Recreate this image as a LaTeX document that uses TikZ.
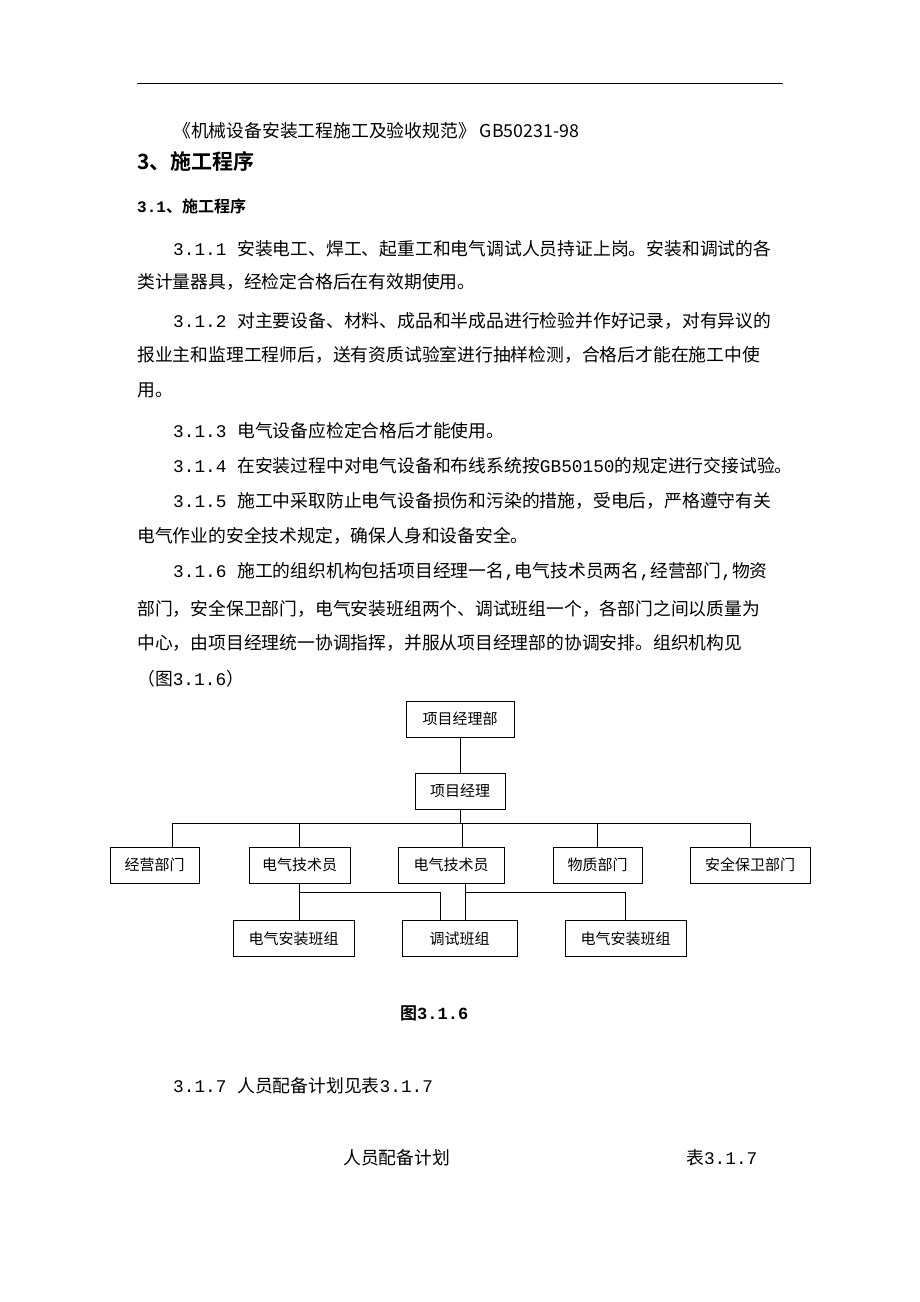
\documentclass[tikz,border=0pt]{standalone}
\usepackage{fontspec}
\newfontfamily\cjk{Noto Sans CJK SC}
\newfontfamily\cjkb{Noto Sans CJK SC Bold}
\newfontfamily\mnum{Liberation Mono}
\newfontfamily\mnumb{Liberation Mono Bold}
\newcommand{\mm}[1]{{\mnum #1}}
\newcommand{\mb}[1]{{\mnumb #1}}
\begin{document}
\begin{tikzpicture}[x=1pt,y=-1pt,
  box/.style={draw,line width=0.8pt,minimum height=36pt,inner sep=0pt,font=\cjk\fontsize{15}{16}\selectfont},
  tx/.style={anchor=base west,inner sep=0pt,font=\cjk\fontsize{17.8}{18}\selectfont},
  ln/.style={line width=0.8pt}]
\useasboundingbox (0,0) rectangle (920,1302);
\draw[line width=0.7pt] (137,83) -- (783,83);
\node[tx] (l0) at (173,137) {《机械设备安装工程施工及验收规范》 GB50231-98};
\node[tx,font=\cjkb\fontsize{21}{24}\selectfont] (h1) at (137,169) {3、施工程序};
\node[tx,font=\cjkb\fontsize{16}{18}\selectfont] (h2) at (137,212) {\mb{3.1}、施工程序};
\node[tx] (p1) at (173,255) {\mm{3.1.1 }安装电工、焊工、起重工和电气调试人员持证上岗。安装和调试的各};
\node[tx] (p1b) at (137,288) {类计量器具，经检定合格后在有效期使用。};
\node[tx] (p2) at (173,327) {\mm{3.1.2 }对主要设备、材料、成品和半成品进行检验并作好记录，对有异议的};
\node[tx] (p2b) at (137,361) {报业主和监理工程师后，送有资质试验室进行抽样检测，合格后才能在施工中使};
\node[tx] (p2c) at (137,396) {用。};
\node[tx] (p3) at (173,437) {\mm{3.1.3 }电气设备应检定合格后才能使用。};
\node[tx] (p4) at (173,472) {\mm{3.1.4 }在安装过程中对电气设备和布线系统按\mm{GB50150}的规定进行交接试验。};
\node[tx] (p5) at (173,507) {\mm{3.1.5 }施工中采取防止电气设备损伤和污染的措施，受电后，严格遵守有关};
\node[tx] (p5b) at (137,542) {电气作业的安全技术规定，确保人身和设备安全。};
\node[tx] (p6) at (173,577) {\mm{3.1.6 }施工的组织机构包括项目经理一名\mm{,}电气技术员两名\mm{,}经营部门\mm{,}物资};
\node[tx] (p6b) at (137,615) {部门，安全保卫部门，电气安装班组两个、调试班组一个，各部门之间以质量为};
\node[tx] (p6c) at (137,649) {中心，由项目经理统一协调指挥，并服从项目经理部的协调安排。组织机构见};
\node[tx] (p6d) at (137,685) {（图\mm{3.1.6}）};
% chart
\node[box,minimum width=108pt] (pmd) at (460,719) {项目经理部};
\node[box,minimum width=90pt] (pm) at (460,791) {项目经理};
\node[box,minimum width=89pt] (jy) at (154.5,865) {经营部门};
\node[box,minimum width=101pt] (t1) at (299.5,865) {电气技术员};
\node[box,minimum width=106pt] (t2) at (451,865) {电气技术员};
\node[box,minimum width=89pt] (wz) at (597.5,865) {物质部门};
\node[box,minimum width=120pt] (aq) at (750,865) {安全保卫部门};
\node[box,minimum width=121pt] (b1) at (293.5,938.5) {电气安装班组};
\node[box,minimum width=115pt] (b2) at (459.5,938.5) {调试班组};
\node[box,minimum width=121pt] (b3) at (625.5,938.5) {电气安装班组};
\coordinate (bus) at (0,823);
\coordinate (bus2) at (0,892);
\draw[ln] (pmd) -- (pm);
\draw[ln] (pm.south) -- (pm.south |- bus);
\draw[ln] (172,823) -- (751,823);
\draw[ln] (172,823) -- (172,847);
\draw[ln] (t1.north) -- (t1.north |- bus);
\draw[ln] (462,823) -- (462,847);
\draw[ln] (wz.north) -- (wz.north |- bus);
\draw[ln] (aq.north) -- (aq.north |- bus);
\draw[ln] (t1.south) -- (b1.north -| t1.south);
\draw[ln] (t1.south |- bus2) -- (440,892) -- (440,920);
\draw[ln] (465,883) -- (465,920);
\draw[ln] (465,892) -- (b3.north |- bus2) -- (b3.north);
\node[tx,font=\cjkb\fontsize{17}{18}\selectfont] (fig) at (400,1019) {图\mb{3.1.6}};
\node[tx] (p7) at (173,1092) {\mm{3.1.7 }人员配备计划见表\mm{3.1.7}};
\node[tx] (t7) at (343,1164) {人员配备计划};
\node[tx] (t7b) at (686,1164) {表\mm{3.1.7}};
\end{tikzpicture}
\end{document}
